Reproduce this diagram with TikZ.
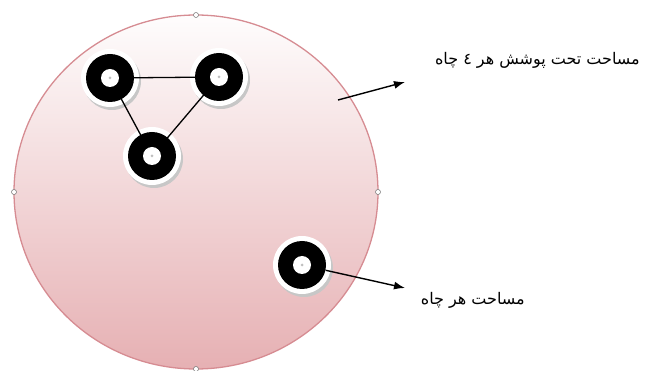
\documentclass[tikz,border=0pt]{standalone}
\usepackage{fontspec}
\newfontfamily\arabicfont[Script=Arabic]{DejaVu Sans}
\TeXXeTstate=1
\usetikzlibrary{arrows.meta}
\definecolor{areatop}{RGB}{254,253,253}
\definecolor{areabot}{RGB}{230,176,179}
\definecolor{arearim}{RGB}{214,140,146}

\begin{document}
\begin{tikzpicture}[>={Latex[length=11pt,width=8pt]}, x=1pt, y=-1pt,
    welldisk/.style={circle, fill=black, minimum size=48pt, inner sep=0pt},
    wellhole/.style={circle, fill=white, minimum size=18pt, inner sep=0pt},
    handle/.style={fill=white, draw=black!55, line width=0.5pt},
    label/.style={font=\arabicfont\fontsize{16}{18}\selectfont, inner sep=0pt}]
         \useasboundingbox (0,0) rectangle (646,371);
         % area round the wells
         \shade[top color=areatop, bottom color=areabot, draw=arearim, line width=1.3pt]
               (196,192) ellipse [x radius=182pt, y radius=177pt];
         \foreach \p in {(196,15),(14,192),(378,192),(196,369)}
                  \draw[handle] \p circle (2.5pt);
         % wells
         \foreach \n/\x/\y in {1/110/78, 2/219/77, 3/152/156, 4/302/265}{
                  \fill[black!22] (\x+2,\y+3) circle (29pt);
                  \fill[white] (\x,\y) circle (29pt);
                  \node[welldisk] (d\n) at (\x,\y) {};
                  \node[wellhole] (w\n) at (\x,\y) {};
                  \fill[black!25] (\x,\y) circle (1.5pt);
         }
         \draw[line width=1.3pt] (w1) -- (w2) (w1) -- (w3) (w2) -- (w3);
         % labels
         \node[label, anchor=east] (lball) at (640,60) {\beginR مساحت تحت پوشش هر ٤ چاه\endR};
         \node[label, anchor=east] (lbone) at (525,300) {\beginR مساحت هر چاه\endR};
         \coordinate (from1) at (338,100);
         \coordinate (to1) at (405,82);
         \coordinate (to2) at (405,288);
         \draw[->, line width=1.4pt] (from1) -- (to1);
         \draw[->, line width=1.4pt] (d4) -- (to2);
        \end{tikzpicture}
\end{document}
